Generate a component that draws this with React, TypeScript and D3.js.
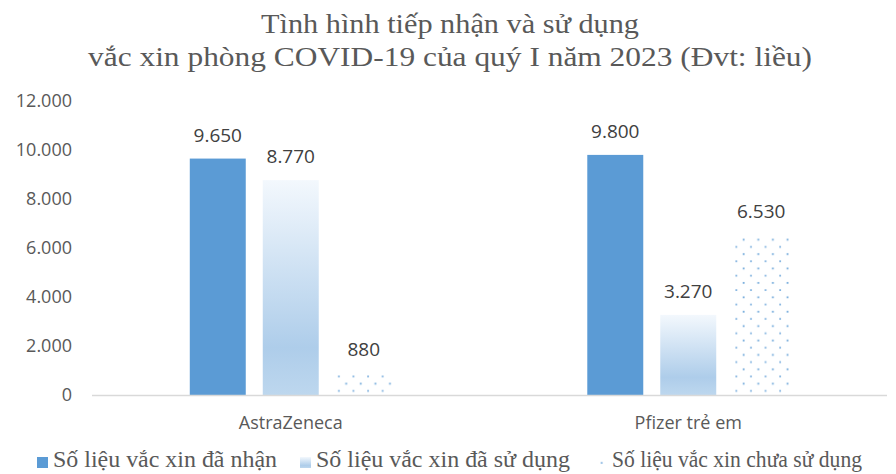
import * as d3 from "d3";
import { useEffect, useRef } from "react";

const categories = ["AstraZeneca", "Pfizer trẻ em"];
const seriesNames = [
  "Số liệu vắc xin đã nhận",
  "Số liệu vắc xin đã sử dụng",
  "Số liệu vắc xin chưa sử dụng",
];
const received = [9650, 9800];
const used = [8770, 3270];
const unused = [880, 6530];
const yTicks = [0, 2000, 4000, 6000, 8000, 10000, 12000];
const titleLines = [
  "Tình hình tiếp nhận và sử dụng",
  "vắc xin phòng COVID-19 của quý I năm 2023 (Đvt: liều)",
];

export default function App({ width = 896, height = 474 }) {
  const ref = useRef<SVGSVGElement | null>(null);

  useEffect(() => {
    const svg = d3.select(ref.current);
    svg.selectAll("*").remove();
    svg.attr("width", width).attr("height", height);

    const grey = "#595959";
    const sans = "'Open Sans', sans-serif";
    const serif = "'Liberation Serif', 'Times New Roman', serif";
    const vn = d3.formatLocale({
      decimal: ",",
      thousands: ".",
      grouping: [3],
      currency: ["", ""],
    });
    const fmt = vn.format(",d");

    const plotLeft = 92;
    const plotRight = 887;
    const yBase = 395;
    const yTop = 101;

    // ===== Scales =====
    const x0 = d3
      .scaleBand()
      .domain(categories)
      .range([plotLeft, plotRight])
      .paddingInner(0.492)
      .paddingOuter(0.246);

    const x1 = d3
      .scaleBand()
      .domain(seriesNames)
      .range([0, x0.bandwidth()])
      .paddingInner(0.233)
      .paddingOuter(0);

    const y = d3.scaleLinear().domain([0, 12000]).range([yBase, yTop]);

    // ===== Fills =====
    const defs = svg.append("defs");
    const grad = defs
      .append("linearGradient")
      .attr("id", "usedGrad")
      .attr("x1", "0%")
      .attr("y1", "0%")
      .attr("x2", "0%")
      .attr("y2", "100%");
    grad.append("stop").attr("offset", "0%").attr("stop-color", "#f3f8fd");
    grad.append("stop").attr("offset", "78%").attr("stop-color", "#aecdea");
    grad.append("stop").attr("offset", "100%").attr("stop-color", "#bdd7ee");

    const pat = defs
      .append("pattern")
      .attr("id", "dots")
      .attr("patternUnits", "userSpaceOnUse")
      .attr("x", 2)
      .attr("y", 1)
      .attr("width", 14.6)
      .attr("height", 28.8);
    [
      [1, 1, 0.75],
      [8.3, 8.2, 0.85],
      [1, 15.4, 0.75],
      [8.3, 22.6, 0.85],
    ].forEach(([cx, cy, o]) => {
      pat
        .append("rect")
        .attr("x", cx - 0.8)
        .attr("y", cy - 0.8)
        .attr("width", 1.8)
        .attr("height", 1.8)
        .attr("fill", "#5b9bd5")
        .attr("opacity", o);
    });

    const fills = ["#5b9bd5", "url(#usedGrad)", "url(#dots)"];
    const color = d3.scaleOrdinal<string, string>().domain(seriesNames).range(fills);

    // ===== Title =====
    const titleLengths = [378, 724];
    titleLines.forEach((line, i) => {
      svg
        .append("text")
        .attr("x", 450)
        .attr("y", 33 + i * 33)
        .attr("text-anchor", "middle")
        .attr("textLength", titleLengths[i])
        .attr("lengthAdjust", "spacingAndGlyphs")
        .style("font-family", serif)
        .style("font-size", "27px")
        .style("fill", grey)
        .text(line);
    });

    // ===== Y axis labels =====
    svg
      .append("g")
      .selectAll("text")
      .data(yTicks)
      .enter()
      .append("text")
      .attr("x", 72)
      .attr("y", (d) => y(d) + 6)
      .attr("text-anchor", "end")
      .style("font-family", sans)
      .style("font-size", "18px")
      .style("fill", grey)
      .text((d) => fmt(d));

    // ===== Bars =====
    const rows = categories.map((c, i) => ({
      category: c,
      values: [received[i], used[i], unused[i]],
    }));

    const groups = svg
      .selectAll(".cat")
      .data(rows)
      .enter()
      .append("g")
      .attr("transform", (d) => `translate(${x0(d.category)},0)`);

    groups
      .selectAll("rect")
      .data((d) => d.values.map((v, j) => ({ key: seriesNames[j], value: v })))
      .enter()
      .append("rect")
      .attr("x", (d) => x1(d.key)!)
      .attr("y", (d) => y(d.value))
      .attr("width", x1.bandwidth())
      .attr("height", (d) => yBase - y(d.value))
      .attr("fill", (d) => color(d.key));

    groups
      .selectAll("text")
      .data((d) => d.values.map((v, j) => ({ key: seriesNames[j], value: v })))
      .enter()
      .append("text")
      .attr("x", (d) => x1(d.key)! + x1.bandwidth() / 2)
      .attr("y", (d) => y(d.value) - 17)
      .attr("text-anchor", "middle")
      .style("font-family", sans)
      .style("font-size", "19px")
      .style("fill", "#404040")
      .text((d) => fmt(d.value));

    // ===== X axis =====
    svg
      .append("line")
      .attr("x1", plotLeft)
      .attr("x2", plotRight)
      .attr("y1", yBase + 0.5)
      .attr("y2", yBase + 0.5)
      .attr("stroke", "#d9d9d9")
      .attr("stroke-width", 1.5);

    svg
      .append("g")
      .selectAll("text")
      .data(categories)
      .enter()
      .append("text")
      .attr("x", (d) => x0(d)! + x0.bandwidth() / 2)
      .attr("y", 429)
      .attr("text-anchor", "middle")
      .style("font-family", sans)
      .style("font-size", "18px")
      .style("fill", grey)
      .text((d) => d);

    // ===== Legend =====
    const legendItems = [
      { box: 37, text: 53, len: 224 },
      { box: 300, text: 316, len: 254 },
      { box: 598, text: 612, len: 250 },
    ];
    seriesNames.forEach((name, i) => {
      const it = legendItems[i];
      svg
        .append("rect")
        .attr("x", it.box)
        .attr("y", 457)
        .attr("width", 11)
        .attr("height", 11)
        .attr("fill", color(name));
      svg
        .append("text")
        .attr("x", it.text)
        .attr("y", 467)
        .attr("textLength", it.len)
        .attr("lengthAdjust", "spacingAndGlyphs")
        .style("font-family", serif)
        .style("font-size", "24px")
        .style("fill", grey)
        .text(name);
    });
  }, [width, height]);

  return (
    <svg
      ref={ref}
      style={{ position: "absolute", left: 0, top: 0, background: "#fff" }}
    />
  );
}
